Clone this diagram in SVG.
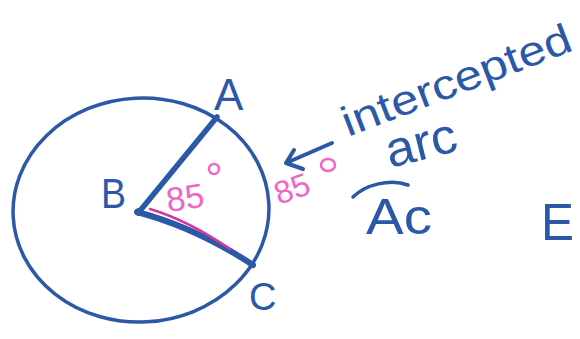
<svg xmlns="http://www.w3.org/2000/svg" width="580" height="339" viewBox="0 0 580 339">
<style>
.b{fill:none;stroke:#2c58a8;stroke-linecap:round;stroke-linejoin:round}
.t{fill:#2c58a8;font-family:"Liberation Sans","DejaVu Sans",sans-serif}
.p{fill:#f065c6;font-family:"Liberation Sans","DejaVu Sans",sans-serif}
</style>
<rect width="580" height="339" fill="#ffffff"/>
<g id="circle">
<ellipse class="b" stroke-width="3.5" cx="141" cy="210" rx="128" ry="112" transform="rotate(-3 141 210)"/>
</g>
<g id="radii">
<path class="b" stroke-width="5.5" d="M139,212 L217,117"/>
<path class="b" stroke-width="6" d="M137,212 C175,222 215,240 253,265"/>
<path fill="none" stroke="#d8359c" stroke-width="2.5" stroke-linecap="round" d="M150,209 C180,218 205,232 230,249"/>
<circle cx="139" cy="212" r="4" fill="#2c58a8"/>
</g>
<g id="labels">
<text class="t" x="214" y="110" font-size="44">A</text>
<text class="t" x="101" y="208" font-size="43" textLength="25" lengthAdjust="spacingAndGlyphs">B</text>
<text class="t" x="249" y="310" font-size="38">C</text>
<text class="t" x="541" y="240" font-size="52" textLength="33" lengthAdjust="spacingAndGlyphs">E</text>
</g>
<g id="angle">
<text class="p" x="168" y="212" font-size="34" transform="rotate(-8 168 212)">85</text>
<circle cx="214" cy="169" r="5" fill="none" stroke="#f065c6" stroke-width="2.5"/>
</g>
<g id="arc-measure">
<text class="p" x="279" y="205" font-size="32" transform="rotate(-20 279 205)">85</text>
<ellipse cx="328" cy="165" rx="7" ry="6" fill="none" stroke="#f065c6" stroke-width="2.5"/>
</g>
<g id="arrow">
<path class="b" stroke-width="4" d="M332,143 L286,163 M294,150 L286,163 L303,169"/>
</g>
<g id="note">
<text class="t" x="348" y="137" font-size="42" textLength="243" lengthAdjust="spacingAndGlyphs" transform="rotate(-21 348 137)">intercepted</text>
<text class="t" x="390" y="168" font-size="50" textLength="72" lengthAdjust="spacingAndGlyphs" transform="rotate(-14 390 168)">arc</text>
<path class="b" stroke-width="3.5" d="M353,197 C365,185 390,178 408,185"/>
<text class="t" x="366" y="234" font-size="50" textLength="66" lengthAdjust="spacingAndGlyphs">Ac</text>
</g>
</svg>
